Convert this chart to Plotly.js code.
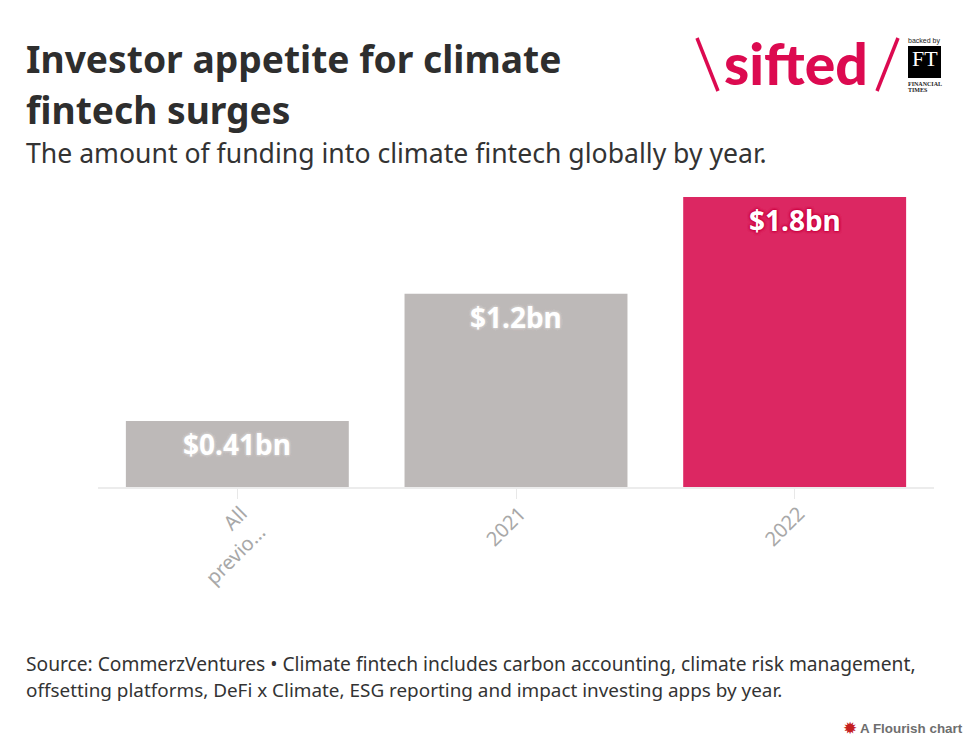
<!DOCTYPE html>
<html>
<head>
<meta charset="utf-8">
<script src="https://cdn.plot.ly/plotly-3.0.1.min.js"></script>
<style>
  html, body { margin: 0; padding: 0; background: #fff; }
  #myPlot { width: 980px; height: 747px; }
</style>
</head>
<body>
<div id="myPlot"></div>
<script>
// Chart data
var categories = ["All previous", "2021", "2022"];
var tickLabels = ["All<br>previo…", "2021", "2022"];
var funding = [0.41, 1.2, 1.8];
var valueLabels = ["$0.41bn", "$1.2bn", "$1.8bn"];
var barColors = ["#bdb9b8", "#bdb9b8", "#dc2762"];
var labelGlows = ["#cfcccb", "#cfcccb", "#cc0040"];

var W = 980, H = 747;
var margin = {l: 98, r: 46, t: 197, b: 260};
var textFont = "Noto Sans, sans-serif";
var siftedRed = "#dc0a50";

// page pixels -> paper coordinates
function px(x) { return (x - margin.l) / (W - margin.l - margin.r); }
function py(y) { return 1 - (y - margin.t) / (H - margin.t - margin.b); }

function pageText(x, y, text, size, color, opts) {
  opts = opts || {};
  return {
    xref: "paper", yref: "paper", x: px(x), y: py(y), text: text,
    showarrow: false, xanchor: opts.xanchor || "left", yanchor: "middle", align: opts.xanchor || "left",
    font: {family: opts.family || textFont, size: size, color: color, weight: opts.weight || 400}
  };
}

function pageLine(x0, y0, x1, y1, color, width) {
  return {type: "line", xref: "paper", yref: "paper", x0: px(x0), y0: py(y0), x1: px(x1), y1: py(y1),
    line: {color: color, width: width}};
}

var data = [{
  type: "bar",
  x: categories,
  y: funding,
  marker: {color: barColors},
  hoverinfo: "skip"
}];

var annotations = [
  pageText(24, 58.5, "Investor appetite for climate", 37.2, "#2e2e2e", {weight: 700}),
  pageText(24, 110, "fintech surges", 37.2, "#2e2e2e", {weight: 700}),
  pageText(24, 153, "The amount of funding into climate fintech globally by year.", 26.6, "#333333"),
  pageText(24, 663.5, "Source: CommerzVentures • Climate fintech includes carbon accounting, climate risk management,", 19.2, "#333333"),
  pageText(24, 690, "offsetting platforms, DeFi x Climate, ESG reporting and impact investing apps by year.", 18.9, "#333333"),
  pageText(722, 63, "sifted", 57, siftedRed, {weight: 900, family: "Lato, sans-serif"}),
  pageText(906, 41, "backed by", 7, "#222222", {family: "Liberation Sans, sans-serif"}),
  pageText(924.5, 58, "FT", 22, "#ffffff", {xanchor: "center", family: "Liberation Serif, serif"}),
  pageText(906, 84, "FINANCIAL", 6, "#222222", {weight: 700, family: "Liberation Serif, serif"}),
  pageText(906, 90, "TIMES", 6, "#222222", {weight: 700, family: "Liberation Serif, serif"}),
  pageText(841, 728, "✹", 17, "#c4201f", {family: "DejaVu Sans, sans-serif"}),
  pageText(858, 728.5, "A Flourish chart", 13.4, "#6e6e6e", {weight: 700, family: "Liberation Sans, sans-serif"})
];

// value labels sit inside the top of each bar
// (index positions: "2021" as a string would be read as a numeric position)
categories.forEach(function (c, i) {
  var glow = "0 0 3px " + labelGlows[i];
  annotations.push({
    xref: "x", yref: "y", x: i, y: funding[i], yshift: -23,
    text: valueLabels[i], showarrow: false, xanchor: "center", yanchor: "middle",
    font: {family: textFont, size: 28, color: "#ffffff", weight: 700,
      shadow: [glow, glow, glow, glow].join(", ")}
  });
});

var shapes = [
  pageLine(697, 38, 718, 91, siftedRed, 3.5),
  pageLine(898, 38, 877, 91, siftedRed, 3.5),
  {type: "rect", xref: "paper", yref: "paper", x0: px(908), x1: px(941), y0: py(46), y1: py(78),
    fillcolor: "#000000", line: {width: 0}}
];

var layout = {
  width: W,
  height: H,
  margin: margin,
  paper_bgcolor: "#ffffff",
  plot_bgcolor: "#ffffff",
  showlegend: false,
  bargap: 0.2,
  xaxis: {
    type: "category",
    categoryorder: "array",
    categoryarray: categories,
    range: [-0.5, categories.length - 0.5],
    tickmode: "array",
    tickvals: categories.map(function (c, i) { return i; }),
    ticktext: tickLabels,
    tickangle: -45,
    ticks: "outside",
    ticklen: 10,
    tickwidth: 1,
    tickcolor: "#e8e8e8",
    showline: true,
    linecolor: "#ececec",
    linewidth: 2,
    ticklabelstandoff: -5,
    ticklabelshift: 4,
    tickfont: {family: textFont, size: 20, color: "#a8a8a8"}
  },
  yaxis: {
    range: [0, 1.8],
    visible: false,
    showgrid: false,
    zeroline: false
  },
  annotations: annotations,
  shapes: shapes
};

Plotly.newPlot("myPlot", data, layout, {displayModeBar: false});
</script>
</body>
</html>
